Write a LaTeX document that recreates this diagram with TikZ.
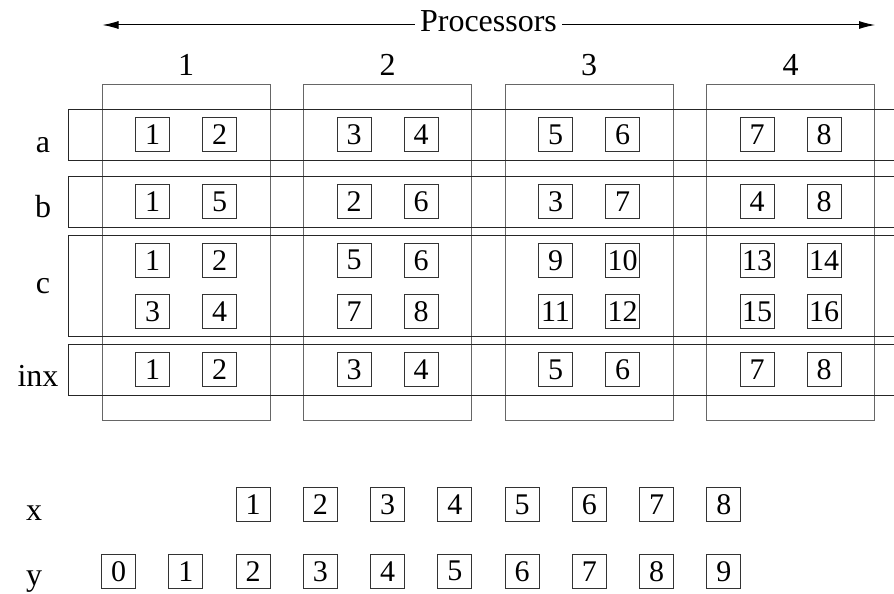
\documentclass[tikz,border=0pt]{standalone}
\usepackage{fontspec}
\setmainfont{Liberation Serif}
\usetikzlibrary{arrows.meta}
\tikzstyle{cell}=[draw=black!80,line width=1pt,minimum size=34pt,inner sep=0pt,
    font=\fontsize{30}{34}\selectfont]
\tikzstyle{procbox}=[draw=black!60,line width=1pt]
\tikzstyle{rowbox}=[draw=black!85,line width=1pt]
\tikzstyle{lbl}=[anchor=base,inner sep=0pt,font=\fontsize{32}{36}\selectfont]
% two cells of one processor: name, centre x, centre y, left value, right value
\newcommand{\cellPair}[5]{
\node[cell] (#1l) at ({#2-33.5},#3) {#4};
\node[cell] (#1r) at ({#2+33.5},#3) {#5};
}

\begin{document}
\begin{tikzpicture}[
x=1pt,y=-1pt
]
\clip (0,0) rectangle (894,594);
%processors
\coordinate (arrL) at (102.5,25);
\coordinate (arrR) at (875,25);
\node[lbl,inner xsep=5pt] (procs) at (488.5,31.5) {Processors};
\draw[line width=1pt,-{Latex[length=16pt,width=8pt]}] (procs.west |- arrL) -- (arrL);
\draw[line width=1pt,-{Latex[length=16pt,width=8pt]}] (procs.east |- arrR) -- (arrR);
\node[lbl] (p1) at (186,76) {1};
\node[lbl] (p2) at (387.5,76) {2};
\node[lbl] (p3) at (589,76) {3};
\node[lbl] (p4) at (790.5,76) {4};
%processor columns
\draw[procbox] (102,84.3) rectangle (270,420);
\draw[procbox] (303.5,84.3) rectangle (471.5,420);
\draw[procbox] (505,84.3) rectangle (673,420);
\draw[procbox] (706.5,84.3) rectangle (874.5,420);
%arrays
\draw[rowbox] (68.3,109.3) rectangle (900,160);
\draw[rowbox] (68.3,176.7) rectangle (900,227);
\draw[rowbox] (68.3,235.3) rectangle (900,336.3);
\draw[rowbox] (68.3,344.3) rectangle (900,395);
\node[lbl] (la) at (43,152) {a};
\node[lbl] (lb) at (43,217.3) {b};
\node[lbl] (lc) at (43,293.3) {c};
\node[lbl] (linx) at (38,386) {inx};
%a
\cellPair{a1}{186}{134.7}{1}{2}
\cellPair{a2}{387.5}{134.7}{3}{4}
\cellPair{a3}{589}{134.7}{5}{6}
\cellPair{a4}{790.5}{134.7}{7}{8}
%b
\cellPair{b1}{186}{201.8}{1}{5}
\cellPair{b2}{387.5}{201.8}{2}{6}
\cellPair{b3}{589}{201.8}{3}{7}
\cellPair{b4}{790.5}{201.8}{4}{8}
%c
\cellPair{c1u}{186}{260.3}{1}{2}
\cellPair{c1d}{186}{311.3}{3}{4}
\cellPair{c2u}{387.5}{260.3}{5}{6}
\cellPair{c2d}{387.5}{311.3}{7}{8}
\cellPair{c3u}{589}{260.3}{9}{10}
\cellPair{c3d}{589}{311.3}{11}{12}
\cellPair{c4u}{790.5}{260.3}{13}{14}
\cellPair{c4d}{790.5}{311.3}{15}{16}
%inx
\cellPair{inx1}{186}{369.7}{1}{2}
\cellPair{inx2}{387.5}{369.7}{3}{4}
\cellPair{inx3}{589}{369.7}{5}{6}
\cellPair{inx4}{790.5}{369.7}{7}{8}
%x and y
\node[lbl] (lx) at (34,520.7) {x};
\node[lbl] (ly) at (34,585) {y};
\foreach \i in {1,...,8}
  \node[cell] (x\i) at ({253+(\i-1)*67.25},504.5) {\i};
\foreach \i in {0,...,9}
  \node[cell] (y\i) at ({118.7+\i*67.25},571.3) {\i};
\end{tikzpicture}
\end{document}
